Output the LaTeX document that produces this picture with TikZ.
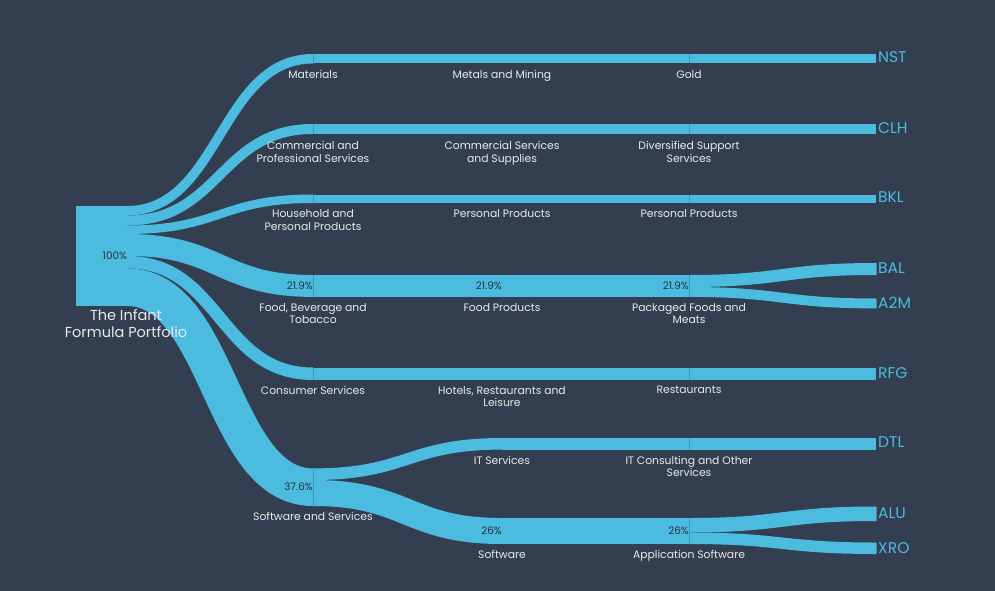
\documentclass[tikz,border=0pt]{standalone}
\usepackage{fontspec}
\setmainfont{Poppins}
\usetikzlibrary{calc}
\definecolor{bg}{HTML}{333F50}
\definecolor{band}{HTML}{4BBBE0}
\definecolor{tickc}{HTML}{3A98BC}
\definecolor{lblc}{HTML}{E8EAEC}
\definecolor{pctc}{HTML}{28323F}
\newcommand{\flow}[3]{\draw[link=#3] let \p1=(#1), \p2=(#2) in ([xshift=-0.6pt]#1) -- (#1) .. controls ({0.5*\x1+0.5*\x2},\y1) and ({0.5*\x1+0.5*\x2},\y2) .. (#2) -- ([xshift=0.6pt]#2);}
\newcommand{\tickmark}[2]{\draw[tickline] ([yshift=#2/2]#1) -- ([yshift=-#2/2]#1);}
\tikzset{
  link/.style={draw=band, line width=#1, line cap=butt},
  tickline/.style={draw=tickc, line width=0.8pt},
  lbl/.style={text=lblc, font=\fontsize{10.8}{12.5}\selectfont, align=center, anchor=north, inner sep=0pt},
  pct/.style={text=pctc, font=\fontsize{10.4}{12}\selectfont, anchor=east, inner sep=0pt},
  tkr/.style={text=band, font=\fontsize{15.5}{17}\selectfont, anchor=west, inner sep=0pt},
}
\begin{document}
\begin{tikzpicture}[x=1pt,y=-1pt]
\useasboundingbox[fill=bg] (0,0) rectangle (995,591);
% root
\node[fill=band, minimum width=51pt, minimum height=100pt, inner sep=0pt] (root) at (101.5,256) {};
% root side coordinates
\coordinate (rMat) at (127,210.75);
\coordinate (rCom) at (127,220.5);
\coordinate (rHou) at (127,229.75);
\coordinate (rFoo) at (127,244.95);
\coordinate (rCon) at (127,262.15);
\coordinate (rSof) at (127,287.2);
% column 1
\coordinate (aMat) at (313,58.75);
\coordinate (aCom) at (313,129);
\coordinate (aHou) at (313,198.75);
\coordinate (aFoo) at (313,285.95);
\coordinate (aCon) at (313,373.75);
\coordinate (aSof) at (313,487.2);
\coordinate (aIT) at (313,474.2);
\coordinate (aSW) at (313,493);
% column 2
\coordinate (bIT) at (502,443.8);
\coordinate (bSW) at (502,531);
% column 3
\coordinate (cFoo) at (689,285.95);
\coordinate (cBAL) at (689,281);
\coordinate (cA2M) at (689,291.95);
\coordinate (cSW) at (689,531);
\coordinate (cALU) at (689,525.25);
\coordinate (cXRO) at (689,538.25);
% ends
\coordinate (eNST) at (876,58.75);
\coordinate (eCLH) at (876,129);
\coordinate (eBKL) at (876,198.75);
\coordinate (eBAL) at (876,269);
\coordinate (eA2M) at (876,303.45);
\coordinate (eRFG) at (876,373.75);
\coordinate (eDTL) at (876,443.8);
\coordinate (eALU) at (876,513.75);
\coordinate (eXRO) at (876,548.25);
% flows from root
\flow{rMat}{aMat}{9.5pt}
\flow{rCom}{aCom}{10pt}
\flow{rHou}{aHou}{8.5pt}
\flow{rFoo}{aFoo}{21.9pt}
\flow{rCon}{aCon}{12.5pt}
\flow{rSof}{aSof}{37.6pt}
% straight bands
\draw[link=9.5pt] (aMat) -- (eNST);
\draw[link=10pt] (aCom) -- (eCLH);
\draw[link=8.5pt] (aHou) -- (eBKL);
\draw[link=21.9pt] (aFoo) -- (cFoo);
\draw[link=12.5pt] (aCon) -- (eRFG);
\draw[link=11.6pt] (bIT) -- (eDTL);
\draw[link=26pt] (bSW) -- (cSW);
% splits
\flow{aIT}{bIT}{11.6pt}
\flow{aSW}{bSW}{26pt}
\flow{cBAL}{eBAL}{12pt}
\flow{cA2M}{eA2M}{9.9pt}
\flow{cALU}{eALU}{14.5pt}
\flow{cXRO}{eXRO}{11.5pt}
% column ticks
\tickmark{aMat}{9.5}
\tickmark{aCom}{10}
\tickmark{aHou}{8.5}
\tickmark{aFoo}{21.9}
\tickmark{aCon}{12.5}
\tickmark{aSof}{37.6}
\coordinate (cMat) at (689,58.75);
\coordinate (cCom) at (689,129);
\coordinate (cHou) at (689,198.75);
\coordinate (cCon) at (689,373.75);
\coordinate (cIT) at (689,443.8);
\tickmark{cMat}{9.5}
\tickmark{cCom}{10}
\tickmark{cHou}{8.5}
\tickmark{cFoo}{21.9}
\tickmark{cCon}{12.5}
\tickmark{cIT}{11.6}
\tickmark{cSW}{26}
% title and root percentage
\node[text=lblc, font=\fontsize{14.5}{16.5}\selectfont, align=center, inner sep=0pt] (title) at (126,323.5) {The Infant\\Formula Portfolio};
\node[pct] (p100) at (root.east) {100\%};
% percentages
\node[pct] (pa) at (aFoo) {21.9\%};
\node[pct] (pb) at (502,285.95) {21.9\%};
\node[pct] (pc) at (cFoo) {21.9\%};
\node[pct] (ps) at (aSof) {37.6\%};
\node[pct] (pd) at (bSW) {26\%};
\node[pct] (pe) at (cSW) {26\%};
% labels column 1
\node[lbl] (l1a) at (313,70.5) {Materials};
\node[lbl] (l1b) at (313,141.5) {Commercial and\\Professional Services};
\node[lbl] (l1c) at (313,209.5) {Household and\\Personal Products};
\node[lbl] (l1d) at (313,303.2) {Food, Beverage and\\Tobacco};
\node[lbl] (l1e) at (313,386) {Consumer Services};
\node[lbl] (l1f) at (313,512.5) {Software and Services};
% labels column 2
\node[lbl] (l2a) at (502,70.5) {Metals and Mining};
\node[lbl] (l2b) at (502,141.5) {Commercial Services\\and Supplies};
\node[lbl] (l2c) at (502,209.5) {Personal Products};
\node[lbl] (l2d) at (502,303.2) {Food Products};
\node[lbl] (l2e) at (502,386) {Hotels, Restaurants and\\Leisure};
\node[lbl] (l2f) at (502,455.6) {IT Services};
\node[lbl] (l2g) at (502,550) {Software};
% labels column 3
\node[lbl] (l3a) at (689,70.5) {Gold};
\node[lbl] (l3b) at (689,141.5) {Diversified Support\\Services};
\node[lbl] (l3c) at (689,209.5) {Personal Products};
\node[lbl] (l3d) at (689,303.2) {Packaged Foods and\\Meats};
\node[lbl] (l3e) at (689,386) {Restaurants};
\node[lbl] (l3f) at (689,455.6) {IT Consulting and Other\\Services};
\node[lbl] (l3g) at (689,550) {Application Software};
% tickers
\node[tkr] (tNST) at (878,57) {NST};
\node[tkr] (tCLH) at (878,128) {CLH};
\node[tkr] (tBKL) at (878,197.5) {BKL};
\node[tkr] (tBAL) at (878,268) {BAL};
\node[tkr] (tA2M) at (878,303) {A2M};
\node[tkr] (tRFG) at (878,373) {RFG};
\node[tkr] (tDTL) at (878,442.5) {DTL};
\node[tkr] (tALU) at (878,513) {ALU};
\node[tkr] (tXRO) at (878,548) {XRO};
\end{tikzpicture}
\end{document}
